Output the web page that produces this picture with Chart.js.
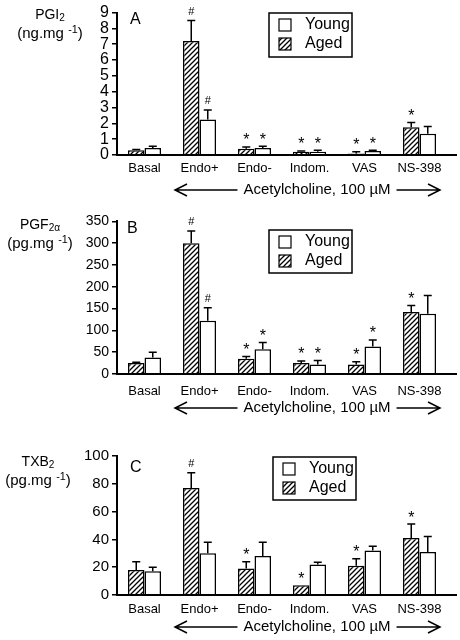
<!DOCTYPE html>
<html>
<head>
<meta charset="utf-8">
<script src="https://cdn.jsdelivr.net/npm/chart.js@4.4.0/dist/chart.umd.min.js"></script>
<style>
  body { margin: 0; background: #fff; width: 460px; height: 640px; position: relative; overflow: hidden; }
  canvas { position: absolute; left: 0; }
</style>
</head>
<body>
<canvas id="chartA" width="460" height="210" style="top:0px"></canvas>
<canvas id="chartB" width="460" height="215" style="top:210px"></canvas>
<canvas id="chartC" width="460" height="215" style="top:425px"></canvas>
<script>
// data
const categories = ['Basal', 'Endo+', 'Endo-', 'Indom.', 'VAS', 'NS-398'];

const pgi2Aged = [0.3, 7.2, 0.4, 0.2, 0.1, 1.75];
const pgi2AgedErr = [0.05, 1.3, 0.1, 0.05, 0.1, 0.3];
const pgi2Young = [0.45, 2.25, 0.45, 0.2, 0.25, 1.35];
const pgi2YoungErr = [0.1, 0.6, 0.1, 0.1, 0.05, 0.45];
const pgi2AgedMarks = ['', '#', '*', '*', '*', '*'];
const pgi2YoungMarks = ['', '#', '*', '*', '*', ''];
const pgi2Ticks = [0, 9, 1];

const pgf2Aged = [25, 300, 35, 25, 22, 142];
const pgf2AgedErr = [2, 28, 5, 5, 6, 15];
const pgf2Young = [38, 122, 57, 22, 63, 138];
const pgf2YoungErr = [12, 30, 15, 9, 15, 42];
const pgf2AgedMarks = ['', '#', '*', '*', '*', '*'];
const pgf2YoungMarks = ['', '#', '*', '*', '*', ''];
const pgf2Ticks = [0, 350, 50];

const txb2Aged = [18, 77, 19, 7, 21, 41];
const txb2AgedErr = [6, 11, 5, 0, 5, 10];
const txb2Young = [17, 30, 28, 22, 32, 31];
const txb2YoungErr = [3, 8, 10, 1.5, 3, 11];
const txb2AgedMarks = ['', '#', '*', '*', '*', '*'];
const txb2YoungMarks = ['', '', '', '', '', ''];
const txb2Ticks = [0, 100, 20];

const FONT = '"Liberation Sans", Arial, Helvetica, sans-serif';

function makeHatch() {
  const c = document.createElement('canvas');
  c.width = 5; c.height = 5;
  const g = c.getContext('2d');
  g.fillStyle = '#fff';
  g.fillRect(0, 0, 5, 5);
  g.strokeStyle = '#000';
  g.lineWidth = 1.3;
  g.beginPath();
  g.moveTo(-1, 6); g.lineTo(6, -1);
  g.moveTo(-1, 1); g.lineTo(1, -1);
  g.moveTo(4, 6); g.lineTo(6, 4);
  g.stroke();
  return c;
}
const hatchCanvas = makeHatch();

// draws text with a smaller raised/lowered part, e.g. PGI + "2"
function drawRich(ctx, parts, cx, y, size) {
  let total = 0;
  parts.forEach(p => {
    ctx.font = (p.small ? size * 0.72 : size) + 'px ' + FONT;
    total += ctx.measureText(p.t).width;
  });
  let x = cx - total / 2;
  ctx.textAlign = 'left';
  ctx.textBaseline = 'middle';
  parts.forEach(p => {
    ctx.font = (p.small ? size * 0.72 : size) + 'px ' + FONT;
    ctx.fillText(p.t, x, y + (p.dy || 0));
    x += ctx.measureText(p.t).width;
  });
}

const extrasPlugin = {
  id: 'extras',
  afterDatasetsDraw(chart, args, opts) {
    const ctx = chart.ctx;
    const area = chart.chartArea;
    const y = chart.scales.y;
    ctx.save();
    ctx.fillStyle = '#000';
    ctx.strokeStyle = '#000';

    // x axis line, runs a bit past the last group
    ctx.lineWidth = 2;
    ctx.beginPath();
    ctx.moveTo(area.left - 1, area.bottom);
    ctx.lineTo(area.right + 10, area.bottom);
    ctx.stroke();

    // error bars and significance marks
    chart.data.datasets.forEach((ds, i) => {
      const meta = chart.getDatasetMeta(i);
      meta.data.forEach((bar, j) => {
        const v = ds.data[j];
        const e = ds.errors[j];
        let top = bar.y;
        if (e > 0) {
          top = y.getPixelForValue(v + e);
          ctx.lineWidth = 1.5;
          ctx.beginPath();
          ctx.moveTo(bar.x, bar.y);
          ctx.lineTo(bar.x, top);
          ctx.moveTo(bar.x - 4, top);
          ctx.lineTo(bar.x + 4, top);
          ctx.stroke();
        }
        const m = ds.marks[j];
        if (m) {
          ctx.font = (m === '#' ? '11px ' : '16px ') + FONT;
          ctx.textAlign = 'center';
          ctx.textBaseline = 'middle';
          ctx.fillText(m, bar.x, top - (m === '#' ? 9 : 6));
        }
      });
    });

    // panel letter
    ctx.font = '16px ' + FONT;
    ctx.textAlign = 'left';
    ctx.textBaseline = 'middle';
    ctx.fillText(opts.letter, opts.letterX, opts.letterY);

    // y title
    drawRich(ctx, opts.title1, opts.titleX, opts.titleY, 14);
    drawRich(ctx, [{ t: '(' + opts.unit + '.mg ' }, { t: '-1', small: true, dy: -4 }, { t: ')' }], opts.titleX, opts.titleY + 19, 15);

    // legend box
    const L = opts.legend;
    ctx.lineWidth = 1.5;
    ctx.strokeRect(L.x, L.y, L.w, L.h);
    const rows = [chart.data.datasets[1], chart.data.datasets[0]];
    rows.forEach((ds, k) => {
      const cy = L.y + 12 + k * 19;
      ctx.fillStyle = ds.backgroundColor;
      ctx.fillRect(L.x + 10, cy - 6, 12, 12);
      ctx.lineWidth = 1.2;
      ctx.strokeRect(L.x + 10, cy - 6, 12, 12);
      ctx.fillStyle = '#000';
      ctx.font = '16px ' + FONT;
      ctx.textAlign = 'left';
      ctx.textBaseline = 'middle';
      ctx.fillText(ds.label, L.x + 36, cy);
    });

    // acetylcholine arrow
    const ay = opts.arrowY;
    const ax1 = 175, ax2 = 440, tx = 317;
    ctx.font = '15px ' + FONT;
    ctx.textAlign = 'center';
    ctx.textBaseline = 'middle';
    const label = 'Acetylcholine, 100 \u00B5M';
    const tw = ctx.measureText(label).width;
    ctx.fillText(label, tx, ay);
    ctx.lineWidth = 1.5;
    ctx.beginPath();
    ctx.moveTo(ax1, ay); ctx.lineTo(tx - tw / 2 - 6, ay);
    ctx.moveTo(tx + tw / 2 + 6, ay); ctx.lineTo(ax2, ay);
    ctx.moveTo(ax1 + 12, ay - 6); ctx.lineTo(ax1, ay); ctx.lineTo(ax1 + 12, ay + 6);
    ctx.moveTo(ax2 - 12, ay - 6); ctx.lineTo(ax2, ay); ctx.lineTo(ax2 - 12, ay + 6);
    ctx.stroke();

    ctx.restore();
  }
};

function buildChart(id, aged, agedErr, agedMarks, young, youngErr, youngMarks, ticks, cfg) {
  const ctx = document.getElementById(id).getContext('2d');
  const hatch = ctx.createPattern(hatchCanvas, 'repeat');
  return new Chart(ctx, {
    type: 'bar',
    data: {
      labels: categories,
      datasets: [
        {
          label: 'Aged',
          data: aged,
          errors: agedErr,
          marks: agedMarks,
          backgroundColor: hatch,
          borderColor: '#000',
          borderWidth: 1.5,
          borderSkipped: 'bottom',
        },
        {
          label: 'Young',
          data: young,
          errors: youngErr,
          marks: youngMarks,
          backgroundColor: '#fff',
          borderColor: '#000',
          borderWidth: 1.5,
          borderSkipped: 'bottom',
        },
      ],
    },
    options: {
      responsive: false,
      animation: false,
      events: [],
      layout: { padding: { top: cfg.top, right: 13, left: 0, bottom: 0 } },
      datasets: { bar: { categoryPercentage: 0.6, barPercentage: 1.0 } },
      scales: {
        x: {
          grid: { display: false, drawTicks: false },
          border: { display: false },
          ticks: { color: '#000', font: { family: FONT, size: 13 }, padding: cfg.xPad, maxRotation: 0, autoSkip: false },
          afterFit: s => { s.height = cfg.xHeight; },
        },
        y: {
          min: ticks[0],
          max: ticks[1],
          ticks: { stepSize: ticks[2], autoSkip: false, color: '#000', font: { family: FONT, size: cfg.yFont }, padding: 3 },
          grid: { drawOnChartArea: false, drawTicks: true, tickLength: 5, color: '#000', lineWidth: 1.5 },
          border: { display: true, color: '#000', width: 2 },
          afterFit: s => { s.width = 117; },
        },
      },
      plugins: {
        legend: { display: false },
        tooltip: { enabled: false },
        extras: cfg.extras,
      },
    },
    plugins: [extrasPlugin],
  });
}

buildChart('chartA', pgi2Aged, pgi2AgedErr, pgi2AgedMarks, pgi2Young, pgi2YoungErr, pgi2YoungMarks, pgi2Ticks, {
  top: 11, xHeight: 55, xPad: 6, yFont: 16,
  extras: {
    letter: 'A', letterX: 130, letterY: 20,
    title1: [{ t: 'PGI' }, { t: '2', small: true, dy: 3 }], unit: 'ng', titleX: 50, titleY: 15,
    legend: { x: 269, y: 13, w: 83, h: 44 },
    arrowY: 190,
  },
});

buildChart('chartB', pgf2Aged, pgf2AgedErr, pgf2AgedMarks, pgf2Young, pgf2YoungErr, pgf2YoungMarks, pgf2Ticks, {
  top: 11, xHeight: 51, xPad: 10, yFont: 14,
  extras: {
    letter: 'B', letterX: 127, letterY: 19,
    title1: [{ t: 'PGF' }, { t: '2\u03B1', small: true, dy: 3 }], unit: 'pg', titleX: 40, titleY: 15,
    legend: { x: 269, y: 20, w: 83, h: 43 },
    arrowY: 198,
  },
});

buildChart('chartC', txb2Aged, txb2AgedErr, txb2AgedMarks, txb2Young, txb2YoungErr, txb2YoungMarks, txb2Ticks, {
  top: 31, xHeight: 45, xPad: 7, yFont: 15,
  extras: {
    letter: 'C', letterX: 130, letterY: 43,
    title1: [{ t: 'TXB' }, { t: '2', small: true, dy: 3 }], unit: 'pg', titleX: 38, titleY: 37,
    legend: { x: 273, y: 32, w: 83, h: 43 },
    arrowY: 202,
  },
});
</script>
</body>
</html>
